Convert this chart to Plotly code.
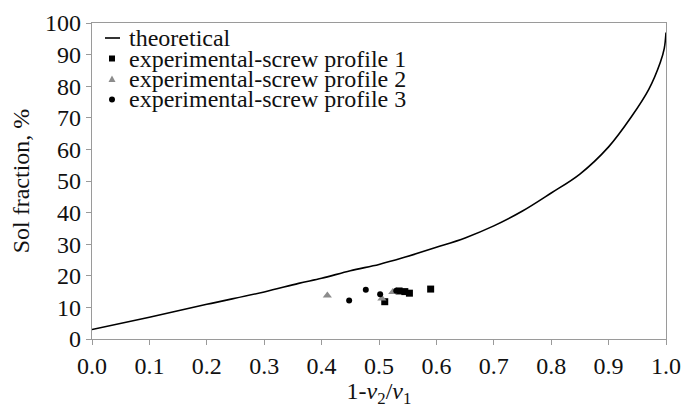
import plotly.graph_objects as go

# Theoretical curve
theo_x = [0.0, 0.1, 0.2, 0.3, 0.36, 0.4, 0.45, 0.5, 0.54, 0.6, 0.65, 0.7, 0.75, 0.8, 0.85, 0.9, 0.94, 0.97, 0.99, 0.997, 1.0]
theo_y = [3.0, 6.9, 11.0, 14.9, 17.6, 19.2, 21.6, 23.6, 25.6, 29.0, 32.0, 35.8, 40.5, 46.2, 52.2, 60.8, 70.4, 79.0, 87.5, 92.0, 97.0]

# Experimental points
p1_x = [0.510, 0.535, 0.545, 0.553, 0.590]
p1_y = [11.8, 15.2, 15.0, 14.5, 15.8]
p2_x = [0.410, 0.505, 0.524]
p2_y = [13.8, 12.8, 14.9]
p3_x = [0.448, 0.477, 0.502, 0.530]
p3_y = [12.2, 15.6, 14.2, 15.3]

x_ticks = [0.0, 0.1, 0.2, 0.3, 0.4, 0.5, 0.6, 0.7, 0.8, 0.9, 1.0]
y_ticks = [0, 10, 20, 30, 40, 50, 60, 70, 80, 90, 100]

legend_labels = ["theoretical", "experimental-screw profile 1",
                 "experimental-screw profile 2", "experimental-screw profile 3"]

FONT = "Liberation Serif"
FS = 24
W, H = 682, 408
ml, mr, mt, mb = 92, 16, 23, 69

fig = go.Figure()
fig.add_trace(go.Scatter(x=theo_x, y=theo_y, mode="lines", line=dict(color="black", width=1.6),
                         line_shape="spline", name=legend_labels[0], showlegend=False))
fig.add_trace(go.Scatter(x=p1_x, y=p1_y, mode="markers", marker=dict(symbol="square", size=7, color="black"),
                         name=legend_labels[1], showlegend=False))
fig.add_trace(go.Scatter(x=p2_x, y=p2_y, mode="markers", marker=dict(symbol="triangle-up", size=8, color="#8c8c8c"),
                         name=legend_labels[2], showlegend=False))
fig.add_trace(go.Scatter(x=p3_x, y=p3_y, mode="markers", marker=dict(symbol="circle", size=6, color="black"),
                         name=legend_labels[3], showlegend=False))

# Manual legend (paper coordinates)
pw = W - ml - mr
ph = H - mt - mb
def px(xp):
    return (xp - ml) / pw
def py(yp):
    return (H - mb - yp) / ph

rows = [38, 58.5, 79, 99.5]
shapes = []
annotations = []
for i, (lab, yy) in enumerate(zip(legend_labels, rows)):
    annotations.append(dict(x=px(127), y=py(yy), xref="paper", yref="paper", text=lab,
                            showarrow=False, xanchor="left", yanchor="middle",
                            font=dict(family=FONT, size=FS, color="#111")))
# symbols
shapes.append(dict(type="line", xref="paper", yref="paper", x0=px(105), x1=px(120), y0=py(rows[0]), y1=py(rows[0]),
                   line=dict(color="black", width=1.6)))
shapes.append(dict(type="rect", xref="paper", yref="paper", x0=px(109), x1=px(115), y0=py(rows[1] + 3), y1=py(rows[1] - 3),
                   fillcolor="black", line=dict(width=0)))
tx0, tx1, tx2 = px(108.5), px(115.5), px(112)
ty0, ty1 = py(rows[2] + 3), py(rows[2] - 3.5)
shapes.append(dict(type="path", xref="paper", yref="paper",
                   path=f"M {tx0} {ty0} L {tx1} {ty0} L {tx2} {ty1} Z",
                   fillcolor="#8c8c8c", line=dict(width=0)))
shapes.append(dict(type="circle", xref="paper", yref="paper", x0=px(109), x1=px(115), y0=py(rows[3] + 3), y1=py(rows[3] - 3),
                   fillcolor="black", line=dict(width=0)))

axis_common = dict(showline=True, linecolor="#9a9a9a", linewidth=1.3, mirror=True, ticks="outside",
                   tickcolor="#9a9a9a", ticklen=5, tickwidth=1.3, showgrid=False, zeroline=False,
                   tickfont=dict(family=FONT, size=FS, color="#111"))

fig.update_layout(
    width=W, height=H,
    margin=dict(l=ml, r=mr, t=mt, b=mb),
    paper_bgcolor="white", plot_bgcolor="white",
    shapes=shapes, annotations=annotations,
    xaxis=dict(range=[0, 1], tickvals=x_ticks, ticktext=[f"{v:.1f}" for v in x_ticks],
               title=dict(text="1-<i>v</i><sub>2</sub>/<i>v</i><sub>1</sub>", font=dict(family=FONT, size=FS, color="#111"), standoff=6),
               **axis_common),
    yaxis=dict(range=[0, 100], tickvals=y_ticks, ticktext=[str(v) for v in y_ticks],
               title=dict(text="Sol fraction, %", font=dict(family=FONT, size=FS, color="#111"), standoff=8),
               **axis_common),
    showlegend=False,
)
fig.update_xaxes(automargin=False)
fig.update_yaxes(automargin=False)
fig.write_html("out.html", config={"displayModeBar": False},
               post_script="document.body.style.margin='0px';")
